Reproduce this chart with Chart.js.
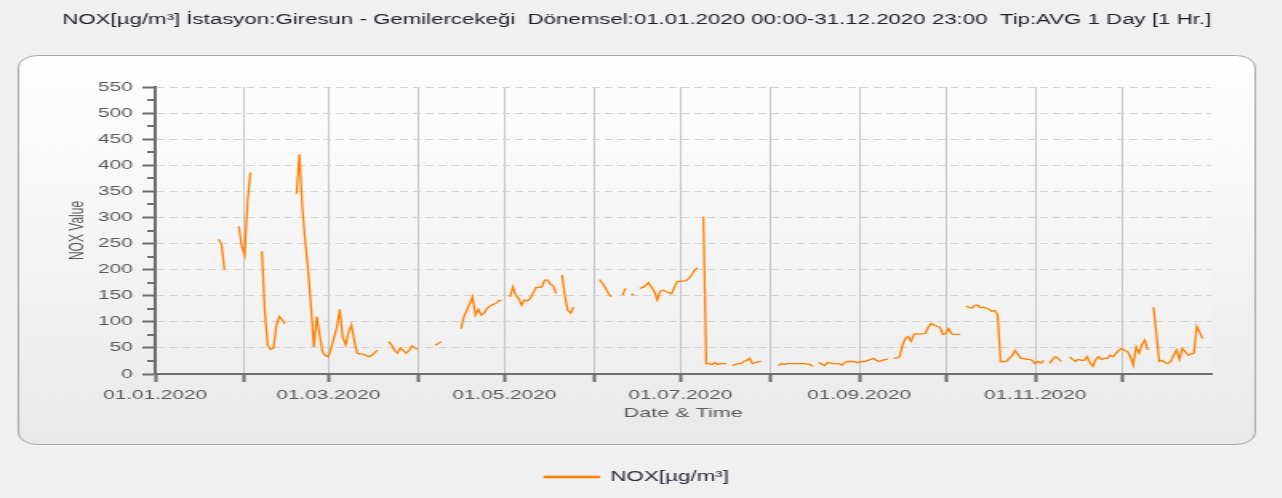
<!DOCTYPE html>
<html>
<head>
<meta charset="utf-8">
<title>NOX - Giresun Gemilercekeği 2020</title>
<script src="https://cdn.jsdelivr.net/npm/chart.js@4.4.1/dist/chart.umd.min.js"></script>
<style>
  html, body { margin: 0; padding: 0; background: #f0f0f0; overflow: hidden; }
  /* the reference is a wide-stretched screenshot, so draw narrow and stretch */
  #wrap { width: 801px; height: 498px; transform: scaleX(1.6); transform-origin: 0 0; }
</style>
</head>
<body>
<div id="wrap"><canvas id="noxChart" width="801" height="498"></canvas></div>
<script>
const TITLE = "NOX[µg/m³] İstasyon:Giresun - Gemilercekeği  Dönemsel:01.01.2020 00:00-31.12.2020 23:00  Tip:AVG 1 Day [1 Hr.]";
const SERIES_NAME = "NOX[µg/m³]";

// day of year (0 = 01.01.2020) where each month starts
const monthStarts = [0, 31, 60, 91, 121, 152, 182, 213, 244, 274, 305, 335];
const monthLabels = ["01.01.2020", "", "01.03.2020", "", "01.05.2020", "", "01.07.2020", "", "01.09.2020", "", "01.11.2020", ""];

// daily NOX averages, one value per day, null = no data
const noxJan = [null, null, null, null, null, null, null, null, null, null, null, null, null, null, null, null, null, null, null, null, null, null,
  258, 248, 200, null, null, null, null, 283, 245];
const noxFeb = [228, 330, 386, null, null, null, 235, 120, 55, 47, 50, 92, 110, 104, 96, null, null, null,
  345, 421, 320, 255, 200, 130, 52, 110, 75, 42, 36];
const noxMar = [33, 50, 70, 90, 124, 70, 56, 80, 94, 65, 40, 38, 38, 36, 33, 36, 40, 46, null, null, null,
  62, 55, 45, 40, 50, 45, 40, 45, 54, 50];
const noxApr = [47, null, null, null, null, null, 55, 58, 62, null, null, null, null, null, null,
  87, 110, 122, 135, 148, 113, 124, 113, 116, 126, 130, 133, 135, 140, 142];
const noxMay = [null, null, 148, 167, 150, 145, 132, 142, 140, 145, 155, 166, 166, 167, 180, 180, 172, 168, 154, null,
  190, 150, 122, 117, 128, null, null, null, null, null, null];
const noxJun = [null, null, 181, 174, 166, 155, 148, null, null, null, 151, 164, null, 154, 151, null,
  164, 166, 170, 175, 166, 158, 142, 158, 161, 158, 156, 154, 167, 177];
const noxJul = [178, 178, 179, 183, 190, 200, 203, null, 302, 20, 20, 18, 22, 18, 20, 20, 20, null,
  16, 18, 20, 20, 24, 26, 30, 20, 22, 23, 25, null, null];
const noxAug = [null, null, null, 16, 20, 18, 20, 20, 20, 20, 20, 20, 20, 19, 18, 14, null,
  22, 19, 16, 22, 21, 20, 20, 20, 17, 22, 24, 24, 24, 22];
const noxSep = [22, 24, 24, 26, 28, 30, 26, 24, 26, 28, 28, null, 30, 31, 33, 55, 68, 72, 63, 76,
  77, 77, 77, 78, 90, 97, 94, 91, 90, 76];
const noxOct = [78, 87, 77, 76, 76, 76, null, 130, 128, 126, 131, 132, 127, 128, 126, 124, 120, 122, 113,
  24, 24, 24, 30, 35, 45, 38, 30, 30, 28, 28, 26];
const noxNov = [20, 24, 21, 26, null, 20, 28, 33, 30, 24, null, null, 33, 28, 24, 28, 26, 26, 33, 22,
  15, 28, 33, 28, 30, 30, 36, 33, 40, 45];
const noxDec = [49, 45, 43, 33, 17, 52, 40, 56, 65, 46, null, 128, 78, 24, 26, 22, 20, 24, 36, 46,
  28, 49, 43, 36, 38, 40, 91, 80, 68, null, null];

const noxDaily = [].concat(noxJan, noxFeb, noxMar, noxApr, noxMay, noxJun,
  noxJul, noxAug, noxSep, noxOct, noxNov, noxDec);

const FONT = "'Liberation Sans', Arial, sans-serif";
Chart.defaults.font.family = FONT;

// gray panel, rounded frame and plot background
const backdrop = {
  id: "backdrop",
  beforeDraw(chart) {
    const { ctx, chartArea: a } = chart;
    ctx.save();
    ctx.fillStyle = "#f0f0f0";
    ctx.fillRect(0, 0, chart.width, chart.height);

    const g = ctx.createLinearGradient(0, 55, 0, 445);
    g.addColorStop(0, "#ffffff");
    g.addColorStop(1, "#e9e9e9");
    ctx.beginPath();
    ctx.roundRect(11.5, 55.5, 773, 389, 12);
    ctx.fillStyle = g;
    ctx.fill();
    ctx.strokeStyle = "#a8a8a8";
    ctx.lineWidth = 1;
    ctx.stroke();

    const g2 = ctx.createLinearGradient(0, a.top, 0, a.bottom);
    g2.addColorStop(0, "#fdfdfd");
    g2.addColorStop(1, "#efefef");
    ctx.fillStyle = g2;
    ctx.fillRect(a.left, a.top, a.width, a.height);
    ctx.restore();
  }
};

// short minor ticks between the labelled y ticks
const minorTicks = {
  id: "minorTicks",
  afterDraw(chart) {
    const y = chart.scales.y;
    const ctx = chart.ctx;
    ctx.save();
    ctx.strokeStyle = "#6e6e6e";
    ctx.lineWidth = 2;
    for (let v = 25; v < y.max; v += 50) {
      const py = Math.round(y.getPixelForValue(v));
      ctx.beginPath();
      ctx.moveTo(y.right - 5, py);
      ctx.lineTo(y.right, py);
      ctx.stroke();
    }
    ctx.restore();
  }
};

const ctx = document.getElementById("noxChart");

new Chart(ctx, {
  type: "line",
  data: {
    datasets: [{
      label: SERIES_NAME,
      data: noxDaily.map((v, i) => ({ x: i, y: v })),
      borderColor: "#ff8000",
      backgroundColor: "#ff8000",
      borderWidth: 1.3,
      pointRadius: 0,
      tension: 0,
      spanGaps: false
    }]
  },
  options: {
    responsive: false,
    animation: false,
    events: [],
    layout: { padding: { left: 39, right: 44, top: 0, bottom: 4 } },
    plugins: {
      title: {
        display: true,
        text: TITLE,
        color: "#1e1e2a",
        font: { size: 14, weight: "normal" },
        padding: { top: 11.6, bottom: 58.6 }
      },
      legend: {
        position: "bottom",
        labels: {
          boxWidth: 34,
          boxHeight: 1,
          padding: 10,
          color: "#2a2a3a",
          font: { size: 14 }
        }
      },
      tooltip: { enabled: false }
    },
    scales: {
      x: {
        type: "linear",
        min: 0,
        max: 366,
        afterBuildTicks: s => { s.ticks = monthStarts.map(v => ({ value: v })); },
        afterFit: s => { s.height = 86; },
        ticks: {
          autoSkip: false,
          maxRotation: 0,
          padding: 5.7,
          color: "#5a5a5a",
          font: { size: 13 },
          callback: (value, index) => monthLabels[index]
        },
        grid: { color: "#c6c6c6", lineWidth: 1, tickLength: 8, tickColor: "#6e6e6e", tickWidth: 2 },
        border: { color: "#6e6e6e", width: 2 },
        title: {
          display: true,
          text: "Date & Time",
          color: "#5a5a5a",
          font: { size: 13.5 },
          padding: { top: 4, bottom: 38.9 }
        }
      },
      y: {
        min: 0,
        max: 550,
        afterFit: s => { s.width = 58; },
        ticks: { stepSize: 50, padding: 6, color: "#5a5a5a", font: { size: 13 } },
        grid: { color: "#d4d4d4", lineWidth: 1, tickLength: 8, tickColor: "#6e6e6e", tickWidth: 2 },
        border: { color: "#6e6e6e", width: 2, dash: [5, 3] },
        title: {
          display: true,
          text: "NOX Value",
          color: "#5a5a5a",
          font: { size: 12 },
          padding: { top: 2.2, bottom: 0 }
        }
      }
    }
  },
  plugins: [backdrop, minorTicks]
});
</script>
</body>
</html>
